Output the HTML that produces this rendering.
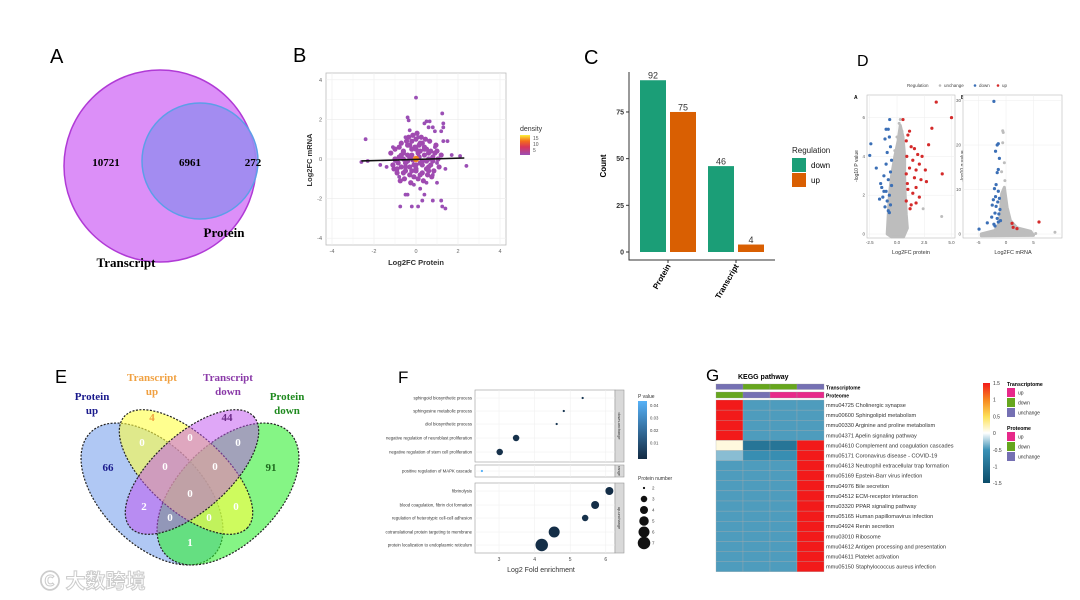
<!DOCTYPE html>
<html><head><meta charset="utf-8"><style>
html,body{margin:0;padding:0;background:#fff}
svg{display:block;font-family:"Liberation Sans","Noto Sans CJK SC",sans-serif}
.ser{font-family:"Liberation Serif",serif;font-weight:bold}
</style></head><body>
<svg id="fig" width="1080" height="600" viewBox="0 0 1080 600" xmlns="http://www.w3.org/2000/svg">
<defs>
<linearGradient id="densGrad" x1="0" y1="1" x2="0" y2="0"><stop offset="0" stop-color="#9b4fb5"/><stop offset="0.4" stop-color="#d9345a"/><stop offset="0.7" stop-color="#f46d1b"/><stop offset="1" stop-color="#fdf23a"/></linearGradient>
<linearGradient id="pGrad" x1="0" y1="1" x2="0" y2="0"><stop offset="0" stop-color="#132b43"/><stop offset="1" stop-color="#56b1f7"/></linearGradient>
<linearGradient id="hmGrad" x1="0" y1="1" x2="0" y2="0"><stop offset="0" stop-color="#0b4c69"/><stop offset="0.33" stop-color="#3a91b6"/><stop offset="0.5" stop-color="#ffffff"/><stop offset="0.66" stop-color="#fde25a"/><stop offset="0.83" stop-color="#f7881f"/><stop offset="1" stop-color="#f21a1a"/></linearGradient>
</defs>

<!-- Panel A -->
<g>
<text x="50" y="63" font-size="20">A</text>
<circle cx="160" cy="166" r="96" fill="#dc8ff8" stroke="#b03ad6" stroke-width="1.5"/>
<circle cx="200" cy="161" r="58" fill="#9c8cf0" fill-opacity="0.9" stroke="#5d9ee8" stroke-width="1.5"/>
<text x="106" y="166" font-size="11" class="ser" text-anchor="middle">10721</text>
<text x="190" y="166" font-size="11" class="ser" text-anchor="middle">6961</text>
<text x="253" y="166" font-size="11" class="ser" text-anchor="middle">272</text>
<text x="224" y="237" font-size="13" class="ser" text-anchor="middle">Protein</text>
<text x="126" y="267" font-size="13" class="ser" text-anchor="middle">Transcript</text>
</g>

<!-- Panel B -->
<g id="pb">
<text x="293" y="62" font-size="20">B</text>
<text x="416" y="265" font-size="7.5" font-weight="bold" text-anchor="middle" fill="#333">Log2FC Protein</text>
<text transform="translate(312,160) rotate(-90)" font-size="7.5" font-weight="bold" text-anchor="middle" fill="#333">Log2FC mRNA</text>
<text x="506" y="83" font-size="7" text-anchor="end" fill="#222"><tspan font-style="italic">R</tspan> = 0.02</text>
<text x="520" y="131" font-size="7" fill="#333">density</text>
<rect x="520" y="135" width="10" height="20" fill="url(#densGrad)"/>
</g>

<!-- Panel C -->
<g id="pc">
<text x="584" y="64" font-size="20">C</text>
<text transform="translate(606,166) rotate(-90)" font-size="8" font-weight="bold" text-anchor="middle">Count</text>
<text x="792" y="153" font-size="8" fill="#222">Regulation</text>
<rect x="792" y="158" width="14" height="14" fill="#1b9e77"/>
<text x="811" y="168" font-size="8">down</text>
<rect x="792" y="173" width="14" height="14" fill="#d95f02"/>
<text x="811" y="183" font-size="8">up</text>
</g>

<!-- Panel D -->
<g id="pd">
<text x="857" y="66" font-size="16">D</text>
<text x="907" y="87" font-size="4.5" fill="#444">Regulation</text>
<circle cx="940" cy="85.5" r="1.3" fill="#bdbdbd"/>
<text x="944" y="87" font-size="4.5" fill="#444">unchange</text>
<circle cx="975" cy="85.5" r="1.3" fill="#3b6fb6"/>
<text x="979" y="87" font-size="4.5" fill="#444">down</text>
<circle cx="998" cy="85.5" r="1.3" fill="#d42a2a"/>
<text x="1002" y="87" font-size="4.5" fill="#444">up</text>
<text x="854" y="99" font-size="5" font-weight="bold">A</text>
<text x="961" y="99" font-size="5" font-weight="bold">B</text>
<text x="911" y="254" font-size="5.5" text-anchor="middle" fill="#333">Log2FC protein</text>
<text x="1013" y="254" font-size="5.5" text-anchor="middle" fill="#333">Log2FC mRNA</text>
<text transform="translate(858,166) rotate(-90)" font-size="5" text-anchor="middle" fill="#333">-log10 P value</text>
<text transform="translate(964,166) rotate(-90)" font-size="5" text-anchor="middle" fill="#333">-log10 q value</text>
</g>

<!-- Panel E -->
<g id="pe">
<text x="55" y="383" font-size="18">E</text>
<g stroke="#222" stroke-width="1.2" stroke-dasharray="2,1.5">
<ellipse cx="152" cy="494" rx="87" ry="50" transform="rotate(45 152 494)" fill="#8fb0f0" fill-opacity="0.7"/>
<ellipse cx="228" cy="494" rx="87" ry="50" transform="rotate(-45 228 494)" fill="#33ee33" fill-opacity="0.6"/>
<ellipse cx="186" cy="472" rx="83" ry="38" transform="rotate(42 186 472)" fill="#ffff44" fill-opacity="0.6"/>
<ellipse cx="192" cy="472" rx="83" ry="38" transform="rotate(-42 192 472)" fill="#c050f0" fill-opacity="0.5"/>
</g>
<g class="ser" font-size="11" text-anchor="middle">
<text x="92" y="400" fill="#1a1a8c"><tspan x="92">Protein</tspan><tspan x="92" dy="14">up</tspan></text>
<text x="152" y="381" fill="#f0a040"><tspan x="152">Transcript</tspan><tspan x="152" dy="14">up</tspan></text>
<text x="228" y="381" fill="#8a3aa8"><tspan x="228">Transcript</tspan><tspan x="228" dy="14">down</tspan></text>
<text x="287" y="400" fill="#1f8a1f"><tspan x="287">Protein</tspan><tspan x="287" dy="14">down</tspan></text>
<text x="108" y="471" fill="#1a1a8c">66</text>
<text x="152" y="421" fill="#f0a040">4</text>
<text x="227" y="421" fill="#6a2a88">44</text>
<text x="271" y="471" fill="#1f6a1f">91</text>
<g fill="#fff">
<text x="142" y="446">0</text>
<text x="190" y="441">0</text>
<text x="238" y="446">0</text>
<text x="165" y="470">0</text>
<text x="215" y="470">0</text>
<text x="190" y="497">0</text>
<text x="144" y="510">2</text>
<text x="170" y="521">0</text>
<text x="209" y="521">0</text>
<text x="236" y="510">0</text>
<text x="190" y="546">1</text>
</g></g>
</g>

<!-- Panel F -->
<g id="pf">
<text x="398" y="383" font-size="17">F</text>
<text x="541" y="572" font-size="7" text-anchor="middle" fill="#333">Log2 Fold enrichment</text>
<text x="638" y="398" font-size="5" fill="#333">P value</text>
<rect x="638" y="401" width="9" height="58" fill="url(#pGrad)"/>
<text x="638" y="480" font-size="5" fill="#333">Protein number</text>
</g>

<!-- Panel G -->
<g id="pg">
<text x="706" y="381" font-size="17">G</text>
<text x="738" y="379" font-size="7" font-weight="bold">KEGG pathway</text>
<rect x="983" y="383" width="7" height="100" fill="url(#hmGrad)"/>
</g>

<text x="40" y="588" font-size="20" fill="#fff" stroke="#ccc" stroke-width="1" font-weight="bold">Ⓒ 大数跨境</text>
</svg>

<script>
const NS='http://www.w3.org/2000/svg';
function mk(parent,tag,attrs,txt){const e=document.createElementNS(NS,tag);for(const k in attrs)e.setAttribute(k,attrs[k]);if(txt!==undefined)e.textContent=txt;document.getElementById(parent).appendChild(e);return e;}

/* ---------- Panel B data ---------- */
const bTicks=[-4,-2,0,2,4];
const bOuterX=[-2.4,-0.4,-0.35,0.5,0.4,0.65,1.3,0.6,0.8,1.3,-0.3,0.9,1.2,-0.5,0.1,-1.1,1.5,1.3,2.1,2.4,-2.6,-2.3,-1.4,-1.7,1.4,0.8,1.0,0.5,-0.1,0.2,-0.5,-0.4,0.4,1.2,0.8,-0.75,-0.2,0.1,1.4,1.25,0.3,-0.8,0.9,-1.0,1.0,0.0,1.25,-1.2,1.7,-0.9];
const bOuterY=[1.0,2.1,1.95,1.9,1.8,1.9,1.8,1.6,1.6,1.6,1.45,1.4,1.4,1.1,1.1,0.6,0.9,0.9,0.15,-0.35,-0.15,-0.1,-0.4,-0.3,-0.5,-0.8,-1.2,-1.2,-1.3,-1.5,-1.8,-1.8,-1.8,-2.1,-2.1,-2.4,-2.4,-2.4,-2.5,-2.4,-2.1,-0.9,0.6,-0.1,-0.2,3.1,2.3,0.3,0.2,-0.6];
const bCoreX=[-0.8,-0.6,-0.4,-0.2,0,0.2,0.4,0.6,0.8,-0.7,-0.5,-0.3,-0.1,0.1,0.3,0.5,0.7,-0.6,-0.4,-0.2,0.2,0.4,0.6,-0.5,-0.3,0,0.3,0.5,-0.9,0.9,-0.2,0.2,-0.4,0.4,0,-0.6,0.6,-0.1,0.1,-0.3,0.3,1.0,-1.0,0.0,0.15,-0.15,
 -1.2,-1.1,-1.0,-0.9,-0.8,-0.7,1.1,1.2,0.95,0.85,-0.35,-0.15,0.05,0.25,0.45,0.65,-0.55,-0.75,0.75,0.55,-0.25,0.35,-0.45,0.15,-0.05,0.5,-0.6,0.8,-0.85,1.05,-1.05,0.0,0.3,-0.3,0.6,-0.5,0.2,-0.2,0.7,-0.7];
const bCoreY=[0.1,0.4,0.7,0.9,1.0,0.8,0.6,0.3,-0.1,-0.4,-0.6,-0.8,-0.9,-1.0,-0.7,-0.5,-0.3,0.0,0.2,0.5,0.4,0.2,0.0,-0.2,-0.4,-0.6,-0.3,-0.1,-0.5,0.3,0.2,-0.2,-0.1,0.5,0.5,-0.7,-0.6,-0.3,0.3,0.1,-0.1,0.4,0.0,-0.3,0.1,-0.05,
 0.3,-0.3,0.5,-0.7,0.6,0.8,-0.4,0.2,0.7,-0.6,1.1,1.2,1.3,1.1,1.0,0.9,-1.0,-1.1,-0.9,-0.8,-1.2,-1.1,0.9,0.7,0.6,0.5,0.3,0.1,-0.2,0.0,-0.5,-0.5,0.8,0.7,-0.4,-0.4,-0.8,-0.6,0.4,0.2];
const bFit=[[-2.6,-0.1],[2.3,0.05]];
(function(){
 const x=v=>416+v*21, y=v=>159-v*19.8;
 let r=mk('pb','rect',{x:326,y:73,width:180,height:172,fill:'#fff',stroke:'#bbb','stroke-width':0.8});
 
 for(let v=-4;v<=4;v+=1){
  let g=mk('pb','line',{x1:x(v),x2:x(v),y1:73,y2:245,stroke:'#eee','stroke-width':v%2?0.4:0.7});
  
  let h=mk('pb','line',{x1:326,x2:506,y1:y(v),y2:y(v),stroke:'#eee','stroke-width':v%2?0.4:0.7});
  
 }
 bTicks.forEach(t=>{
  let a=mk('pb','text',{x:x(t),y:253,'font-size':5.5,'text-anchor':'middle',fill:'#666'},t);
  
  let b=mk('pb','text',{x:322,y:y(t)+2,'font-size':5.5,'text-anchor':'end',fill:'#666'},t);
  
 });
 bOuterX.forEach((v,i)=>{let c=mk('pb','circle',{cx:x(v),cy:y(bOuterY[i]),r:1.9,fill:'#9b4fb5'});
  });
 bCoreX.forEach((v,i)=>{let c=mk('pb','circle',{cx:x(v),cy:y(bCoreY[i]),r:2.6,fill:'#a04ab0'});
  });
 let hot=mk('pb','circle',{cx:x(0),cy:y(0),r:3.2,fill:'#f58a1f'});
 
 let l=mk('pb','line',{x1:x(bFit[0][0]),y1:y(bFit[0][1]),x2:x(bFit[1][0]),y2:y(bFit[1][1]),stroke:'#111','stroke-width':1.6});
 
 [[15,140],[10,146],[5,152]].forEach(d=>{let t=mk('pb','text',{x:533,y:d[1],'font-size':5,fill:'#555'},d[0]);
  });
})();

/* ---------- Panel C data ---------- */
const cGroups=['Protein','Transcript'];
const cDown=[92,46];
const cUp=[75,4];
const cTicks=[0,25,50,75];
(function(){
 const y=v=>252-v*1.867;
 const gx=[640,708];
 let ax=mk('pc','path',{d:'M629 72 V260 H775',fill:'none',stroke:'#333','stroke-width':1});
 
 cTicks.forEach(t=>{let a=mk('pc','text',{x:624,y:y(t)+2.5,'font-size':7,'text-anchor':'end','font-weight':'bold',fill:'#333'},t);
  
  let k=mk('pc','line',{x1:626,x2:629,y1:y(t),y2:y(t),stroke:'#333'});});
 cGroups.forEach((g,i)=>{
  let b=mk('pc','rect',{x:gx[i],y:y(cDown[i]),width:26,height:cDown[i]*1.867,fill:'#1b9e77'});
  
  let u=mk('pc','rect',{x:gx[i]+30,y:y(cUp[i]),width:26,height:cUp[i]*1.867,fill:'#d95f02'});
  
  let t1=mk('pc','text',{x:gx[i]+13,y:y(cDown[i])-1.5,'font-size':9,'text-anchor':'middle',fill:'#333'},cDown[i]);
  
  let t2=mk('pc','text',{x:gx[i]+43,y:y(cUp[i])-1.5,'font-size':9,'text-anchor':'middle',fill:'#333'},cUp[i]);
  
  const cx=gx[i]+28;
  let k=mk('pc','line',{x1:cx,x2:cx,y1:260,y2:263,stroke:'#333'});
  let lb=mk('pc','text',{transform:`translate(${cx+3},${266}) rotate(-60)`,'font-size':8,'font-weight':'bold','text-anchor':'end'},g);
  
 });
})();

/* ---------- Panel D data ---------- */
const dLeftTicksX=[-2.5,0,2.5,5];
const dLeftTicksY=[0,2,4,6];
const dLeftCloudX=[-0.9,-0.8,-0.7,-0.5,-0.2,0.1,0.3,0.55,0.7,0.7,0.75,0.85,0.95,0.6,-0.5];
const dLeftCloudY=[0,1,2,3,4,4.8,5.6,5.0,4,3,2,1,0.3,-0.15,-0.15];
const dLeftGrayX=[0.3,0.2,0.45,-0.2,2.4,4.1,0.0,0.35];
const dLeftGrayY=[5.9,5.7,5.3,4.3,1.3,0.9,5.0,4.6];
const dLeftDownX=[-0.67,-2.4,-2.5,-1.9,-1.0,-0.8,-0.7,-1.1,-0.6,-0.9,-0.5,-1.2,-0.8,-1.4,-1.0,-0.7,-1.3,-0.9,-0.6,-1.1,-0.8,-1.5,-0.5,-0.6,-1.0,-1.6,-0.7,-1.2];
const dLeftDownY=[5.9,4.65,4.05,3.4,5.4,5.4,5.0,4.9,4.5,4.2,3.8,3.0,2.8,2.4,2.2,2.0,1.9,1.7,1.5,1.4,1.2,2.6,2.5,3.2,3.6,1.8,1.1,2.2];
const dLeftUpX=[3.6,5.0,3.2,2.9,4.15,0.55,1.15,1.0,0.85,1.3,1.6,1.9,1.45,2.05,1.15,1.75,0.85,1.6,2.2,0.95,1.75,1.0,1.45,2.05,0.85,1.3,1.75,2.6,2.7,1.2,0.9,2.3];
const dLeftUpY=[6.8,6.0,5.45,4.6,3.1,5.9,5.3,5.1,4.8,4.5,4.4,4.1,3.8,3.6,3.4,3.3,3.1,2.9,2.8,2.6,2.4,2.3,2.1,1.9,1.7,1.5,1.6,3.3,2.7,1.3,4.0,4.0];
const dRightTicksX=[-5,0,5];
const dRightTicksY=[0,10,20,30];
const dRightCloudX=[-4.5,-2,-1.2,-1.0,-0.8,-0.3,0.2,0.8,2,4.5,5,-4.5];
const dRightCloudY=[0,0.8,2.5,5,9,10.5,6,3,1.4,0.6,-0.3,-0.4];
const dRightGrayX=[-0.6,-0.5,-0.3,8.9,5.4,-0.6,-0.8,-0.2];
const dRightGrayY=[23.2,22.8,16.0,0.4,0.1,20.5,14,12];
const dRightDownX=[-2.2,-1.4,-1.6,-1.9,-1.2,-1.4,-1.6,-1.8,-2.1,-1.4,-1.9,-1.2,-2.3,-1.5,-2.5,-1.8,-1.1,-2.0,-1.3,-2.6,-1.6,-3.4,-2.2,-1.4,-4.9,-1.0,-2.0];
const dRightDownY=[29.8,20.3,20,18.6,17.0,14.5,13.8,11.1,10.2,9.6,8.4,8.0,7.7,7.2,6.5,6.2,5.5,4.7,4.5,3.8,3.5,2.5,2.2,2.7,1.1,3.0,1.8];
const dRightUpX=[6.0,1.1,1.3,2.0];
const dRightUpY=[2.7,2.4,1.5,1.2];
(function(){
 function panel(pre,fx,fy,box,tx,ty,cx,cy,gx,gy,dx,dy,ux,uy){
  let r=mk('pd','rect',{x:box[0],y:box[1],width:box[2],height:box[3],fill:'#fff',stroke:'#bbb','stroke-width':0.6});
  
  tx.forEach(t=>{let l=mk('pd','line',{x1:fx(t),x2:fx(t),y1:box[1],y2:box[1]+box[3],stroke:'#eee','stroke-width':0.5});
   
   let a=mk('pd','text',{x:fx(t),y:box[1]+box[3]+6,'font-size':4.5,'text-anchor':'middle',fill:'#555'},t.toFixed(pre=='d-left'?1:0));
   });
  ty.forEach(t=>{let l=mk('pd','line',{x1:box[0],x2:box[0]+box[2],y1:fy(t),y2:fy(t),stroke:'#eee','stroke-width':0.5});
   
   let a=mk('pd','text',{x:box[0]-2,y:fy(t)+1.5,'font-size':4.5,'text-anchor':'end',fill:'#555'},t);
   });
  let p=mk('pd','polygon',{points:cx.map((v,i)=>fx(v)+','+fy(cy[i])).join(' '),fill:'#bdbdbd',stroke:'#bdbdbd','stroke-width':3,'stroke-linejoin':'round'});
  
  gx.forEach((v,i)=>{let c=mk('pd','circle',{cx:fx(v),cy:fy(gy[i]),r:1.5,fill:'#bdbdbd'});});
  dx.forEach((v,i)=>{let c=mk('pd','circle',{cx:fx(v),cy:fy(dy[i]),r:1.6,fill:'#3b6fb6'});});
  ux.forEach((v,i)=>{let c=mk('pd','circle',{cx:fx(v),cy:fy(uy[i]),r:1.6,fill:'#d42a2a'});});
 }
 panel('d-left',v=>897+v*10.9,v=>234-v*19.4,[867,95,88,143],dLeftTicksX,dLeftTicksY,dLeftCloudX,dLeftCloudY,dLeftGrayX,dLeftGrayY,dLeftDownX,dLeftDownY,dLeftUpX,dLeftUpY);
 panel('d-right',v=>1006+v*5.5,v=>234-v*4.45,[963,95,99,143],dRightTicksX,dRightTicksY,dRightCloudX,dRightCloudY,dRightGrayX,dRightGrayY,dRightDownX,dRightDownY,dRightUpX,dRightUpY);
})();

/* ---------- Panel F data ---------- */
const fTerms=['sphingoid biosynthetic process','sphingosine metabolic process','diol biosynthetic process','negative regulation of neuroblast proliferation','negative regulation of stem cell proliferation','positive regulation of MAPK cascade','fibrinolysis','blood coagulation, fibrin clot formation','regulation of heterotypic cell-cell adhesion','cotranslational protein targeting to membrane','protein localization to endoplasmic reticulum'];
const fFacet=[0,0,0,0,0,1,2,2,2,2,2];
const fEnrich=[5.35,4.82,4.62,3.48,3.02,2.52,6.1,5.7,5.42,4.55,4.2];
const fCount=[2,2,2,3,3,2,4,4,3,6,7];
const fPval=[0.004,0.004,0.004,0.002,0.002,0.045,0.001,0.001,0.002,0.001,0.001];
const fXTicks=[3,4,5,6];
const fFacetNames=['down-unchange','range','up-unchange'];
const fSizeLegend=[2,3,4,5,6,7];
const fPTicks=[0.04,0.03,0.02,0.01];
(function(){
 const x=v=>499+(v-3)*35.6;
 const panels=[[390,462],[465,477],[483,553]];
 const rowY=[398,411,424,438,452,471,491,505,518,532,545];
 const rad=n=>1+n*0.75;
 const col=p=>{const t=p/0.045;const a=[19,43,67],b=[86,177,247];return `rgb(${a.map((c,i)=>Math.round(c+(b[i]-c)*t)).join(',')})`;};
 panels.forEach((p,i)=>{
  let r=mk('pf','rect',{x:475,y:p[0],width:140,height:p[1]-p[0],fill:'#fff',stroke:'#999','stroke-width':0.6});
  
  fXTicks.forEach(t=>{let l=mk('pf','line',{x1:x(t),x2:x(t),y1:p[0],y2:p[1],stroke:'#eee','stroke-width':0.5});});
  let s=mk('pf','rect',{x:615,y:p[0],width:9,height:p[1]-p[0],fill:'#d9d9d9',stroke:'#999','stroke-width':0.6});
  
  let st=mk('pf','text',{transform:`translate(618,${(p[0]+p[1])/2}) rotate(90)`,'font-size':3.8,'text-anchor':'middle',fill:'#333'},fFacetNames[i]);
  
 });
 fXTicks.forEach(t=>{let a=mk('pf','text',{x:x(t),y:561,'font-size':5,'text-anchor':'middle',fill:'#444'},t);});
 fTerms.forEach((term,i)=>{
  let l=mk('pf','line',{x1:475,x2:615,y1:rowY[i],y2:rowY[i],stroke:'#eee','stroke-width':0.5});
  let t=mk('pf','text',{x:472,y:rowY[i]+1.5,'font-size':4.3,'text-anchor':'end',fill:'#333'},term);
  
  let c=mk('pf','circle',{cx:x(fEnrich[i]),cy:rowY[i],r:rad(fCount[i])*(fCount[i]==2?0.45:1),fill:col(fPval[i])});
  
 });
 fPTicks.forEach((p,i)=>{let a=mk('pf','text',{x:650,y:407+i*12.5,'font-size':4.3,fill:'#444'},p.toFixed(2));});
 fSizeLegend.forEach((n,i)=>{const yy=488+i*11;
  let c=mk('pf','circle',{cx:644,cy:yy,r:rad(n)*(n==2?0.45:1),fill:'#111'});
  let a=mk('pf','text',{x:652,y:yy+1.5,'font-size':4.5,fill:'#444'},n);});
})();

/* ---------- Panel G data ---------- */
const gPathways=['mmu04725 Cholinergic synapse','mmu00600 Sphingolipid metabolism','mmu00330 Arginine and proline metabolism','mmu04371 Apelin signaling pathway','mmu04610 Complement and coagulation cascades','mmu05171 Coronavirus disease - COVID-19','mmu04613 Neutrophil extracellular trap formation','mmu05169 Epstein-Barr virus infection','mmu04976 Bile secretion','mmu04512 ECM-receptor interaction','mmu03320 PPAR signaling pathway','mmu05165 Human papillomavirus infection','mmu04924 Renin secretion','mmu03010 Ribosome','mmu04612 Antigen processing and presentation','mmu04611 Platelet activation','mmu05150 Staphylococcus aureus infection'];
const gCol1=[1.5,1.5,1.5,1.5,0.1,-0.3,-0.45,-0.45,-0.45,-0.45,-0.45,-0.45,-0.45,-0.45,-0.45,-0.45,-0.45];
const gCol2=[-0.45,-0.45,-0.45,-0.45,-0.9,-0.55,-0.45,-0.45,-0.45,-0.45,-0.45,-0.45,-0.45,-0.45,-0.45,-0.45,-0.45];
const gCol3=[-0.45,-0.45,-0.45,-0.45,-0.9,-0.55,-0.45,-0.45,-0.45,-0.45,-0.45,-0.45,-0.45,-0.45,-0.45,-0.45,-0.45];
const gCol4=[-0.45,-0.45,-0.45,-0.45,1.5,1.5,1.5,1.5,1.5,1.5,1.5,1.5,1.5,1.5,1.5,1.5,1.5];
const gTranscriptome=['unchange','down','down','unchange'];
const gProteome=['down','unchange','up','up'];
const gScaleTicks=[1.5,1,0.5,0,-0.5,-1,-1.5];
(function(){
 const annCol={up:'#e7298a',down:'#66a61e',unchange:'#7570b3'};
 const stops=[[-1.5,[11,76,105]],[-0.5,[58,145,182]],[0,[255,255,255]],[0.5,[253,226,90]],[1,[247,136,31]],[1.5,[242,26,26]]];
 const color=v=>{for(let i=0;i<stops.length-1;i++){const [a,ca]=stops[i],[b,cb]=stops[i+1];if(v<=b){const t=(v-a)/(b-a);return `rgb(${ca.map((c,j)=>Math.round(c+(cb[j]-c)*t)).join(',')})`;}}return 'rgb(242,26,26)';};
 const cols=[gCol1,gCol2,gCol3,gCol4];
 const x0=716,cw=27,y0=400,rh=10.1;
 cols.forEach((col,j)=>{
  let a=mk('pg','rect',{x:x0+j*cw,y:384,width:cw,height:5.5,fill:annCol[gTranscriptome[j]],stroke:'#999','stroke-width':0.3});
  
  let b=mk('pg','rect',{x:x0+j*cw,y:392,width:cw,height:6,fill:annCol[gProteome[j]],stroke:'#999','stroke-width':0.3});
  
  col.forEach((v,i)=>{let c=mk('pg','rect',{x:x0+j*cw,y:y0+i*rh,width:cw,height:rh,fill:color(v),stroke:'#aaa','stroke-width':0.3});
   });
 });
 let t1=mk('pg','text',{x:826,y:389.5,'font-size':5,'font-weight':'bold'},'Transcriptome');
 let t2=mk('pg','text',{x:826,y:397.5,'font-size':5,'font-weight':'bold'},'Proteome');
 gPathways.forEach((p,i)=>{let t=mk('pg','text',{x:826,y:y0+i*rh+7,'font-size':5.6,fill:'#333'},p);});
 gScaleTicks.forEach((v,i)=>{let t=mk('pg','text',{x:993,y:385+i*16.7,'font-size':5,fill:'#333'},v);});
 [['Transcriptome',386],['Proteome',430]].forEach(([name,yy])=>{
  let h=mk('pg','text',{x:1007,y:yy,'font-size':5.2,'font-weight':'bold'},name);
  ['up','down','unchange'].forEach((k,i)=>{
   let s=mk('pg','rect',{x:1007,y:yy+2+i*10,width:8,height:9,fill:annCol[k]});
   let l=mk('pg','text',{x:1018,y:yy+8.5+i*10,'font-size':5,fill:'#333'},k);
  });
 });
})();
</script>
</body></html>
